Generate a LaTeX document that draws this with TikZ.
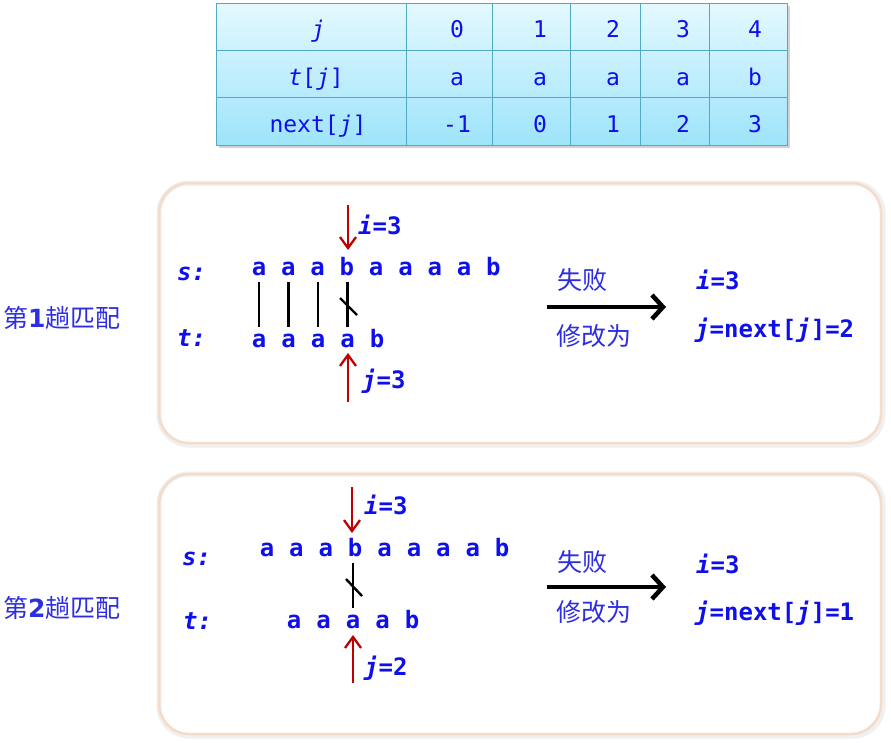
\documentclass[tikz,border=0pt]{standalone}
\usepackage{fontspec}
\setmainfont{DejaVu Sans}
\newfontfamily\mono{DejaVu Sans Mono}
\newfontfamily\cjk{Noto Sans CJK SC}
\usetikzlibrary{arrows.meta,calc}
\definecolor{txtblue}{RGB}{15,15,235}
\definecolor{cjkblue}{RGB}{45,45,225}
\definecolor{arrred}{RGB}{190,0,0}
\definecolor{gridc}{RGB}{80,170,195}
\definecolor{tabtop}{RGB}{228,249,255}
\definecolor{tabbot}{RGB}{158,228,250}
\definecolor{panelc}{RGB}{244,220,202}
\newcommand\lfont{\mono\bfseries\fontsize{24}{28}\selectfont}
\newcommand\tfont{\mono\fontsize{23}{27}\selectfont}
\newcommand\cfont{\cjk\fontsize{25}{29}\selectfont}
\tikzset{
  letter/.style={anchor=base, inner sep=0pt, text=txtblue, font=\lfont},
  lab/.style={anchor=base west, inner sep=0pt, text=txtblue, font=\lfont},
  tabtxt/.style={anchor=base, inner sep=0pt, text=txtblue, font=\tfont},
  cjklab/.style={anchor=west, inner sep=0pt, text=cjkblue, font=\cfont},
  panel/.style={draw=panelc, line width=2.5pt, rounded corners=30pt, minimum width=722pt, minimum height=260pt, inner sep=0pt},
  panelshadow/.style={draw=gray!12, line width=5pt, rounded corners=30pt, minimum width=724pt, minimum height=262pt, inner sep=0pt},
  matchline/.style={draw=black, line width=2.8pt, shorten <=7pt, shorten >=20pt},
  slash/.style={draw=black, line width=2.4pt},
  redarr/.style={draw=arrred, line width=2.3pt, -{Straight Barb[length=11pt,width=16pt]}},
  bigarr/.style={draw=black, line width=4.5pt, -{Straight Barb[length=11pt,width=24pt]}}
}
\begin{document}
\begin{tikzpicture}[x=1pt,y=-1pt]
\useasboundingbox[fill=white] (0,0) rectangle (891,742);
% ---------- table ----------
\fill[gray!35] (219,6) rectangle (790,148);
\shade[top color=tabtop,bottom color=tabbot] (216,3) rectangle (787,145);
\draw[gridc, line width=1pt] (216,3) rectangle (787,145);
\foreach \x in {406,492,570,640,709} \draw[gridc,line width=1pt] (\x,3) -- (\x,145);
\foreach \y in {50,97} \draw[gridc,line width=1pt] (216,\y) -- (787,\y);
\node[tabtxt] (hj) at (318,37) {\itshape j};
\node[tabtxt] (htj) at (316,85) {{\itshape t}[{\itshape j}]};
\node[tabtxt] (hnj) at (318,132) {next[{\itshape j}]};
\foreach [count=\k] \x/\a/\b/\c in {457/0/a/-1,540/1/a/0,613/2/a/1,683/3/a/2,755/4/b/3}{
  \node[tabtxt] (jv\k) at (\x,37) {\a};
  \node[tabtxt] (tv\k) at (\x,85) {\b};
  \node[tabtxt] (nv\k) at (\x,132) {\c};
}
% ---------- panels ----------
\node[panelshadow] (panel1s) at (521,314) {};
\node[panel] (panel1) at (520,313) {};
\node[panelshadow] (panel2s) at (521,605) {};
\node[panel] (panel2) at (520,604) {};
% ---------- row labels ----------
\node[cjklab] (round1) at (3,318) {第{\fontspec{DejaVu Sans}\bfseries 1}趟匹配};
\node[cjklab] (round2) at (3,608) {第{\fontspec{DejaVu Sans}\bfseries 2}趟匹配};
% ---------- panel 1 ----------
\node[lab] (p1slab) at (177,280) {\itshape s:};
\node[lab] (p1tlab) at (177,346) {\itshape t:};
\foreach [count=\k] \c in {a,a,a,b,a,a,a,a,b}
  \node[letter] (p1s\k) at ({259+29.3*(\k-1)},275) {\c};
\foreach [count=\k] \c in {a,a,a,a,b}
  \node[letter] (p1t\k) at ({259+29.5*(\k-1)},347) {\c};
\foreach \k in {1,2,3,4} \draw[matchline] (p1t\k.base |- p1s\k.base) -- (p1t\k.base);
\coordinate (p1x1) at (340,298); \coordinate (p1x2) at (357,315);
\draw[slash] (p1x1) -- (p1x2);
\coordinate (p1ia) at (348,205); \coordinate (p1ib) at (348,250);
\draw[redarr] (p1ia) -- (p1ib);
\coordinate (p1ja) at (348,402); \coordinate (p1jb) at (348,353);
\draw[redarr] (p1ja) -- (p1jb);
\node[lab] (p1i) at (358,234) {{\itshape i}=3};
\node[lab] (p1j) at (362,388) {{\itshape j}=3};
\node[cjklab] (p1fail) at (557,280) {失败};
\node[cjklab] (p1mod) at (556,336) {修改为};
\coordinate (p1aa) at (547,307); \coordinate (p1ab) at (666,307);
\draw[bigarr] (p1aa) -- (p1ab);
\node[lab] (p1ri) at (696,289) {{\itshape i}=3};
\node[lab] (p1rj) at (695,337) {{\itshape j}=next[{\itshape j}]=2};
% ---------- panel 2 ----------
\node[lab] (p2slab) at (182,565) {\itshape s:};
\node[lab] (p2tlab) at (183,629) {\itshape t:};
\foreach [count=\k] \c in {a,a,a,b,a,a,a,a,b}
  \node[letter] (p2s\k) at ({267+29.4*(\k-1)},556) {\c};
\foreach [count=\k] \c in {a,a,a,a,b}
  \node[letter] (p2t\k) at ({294+29.5*(\k-1)},628) {\c};
\draw[matchline] (p2t3.base |- p2s4.base) -- (p2t3.base);
\coordinate (p2x1) at (346,579); \coordinate (p2x2) at (362,596);
\draw[slash] (p2x1) -- (p2x2);
\coordinate (p2ia) at (352,487); \coordinate (p2ib) at (352,533);
\draw[redarr] (p2ia) -- (p2ib);
\coordinate (p2ja) at (353,683); \coordinate (p2jb) at (353,635);
\draw[redarr] (p2ja) -- (p2jb);
\node[lab] (p2i) at (364,514) {{\itshape i}=3};
\node[lab] (p2j) at (364,675) {{\itshape j}=2};
\node[cjklab] (p2fail) at (557,562) {失败};
\node[cjklab] (p2mod) at (556,612) {修改为};
\coordinate (p2aa) at (547,587); \coordinate (p2ab) at (666,587);
\draw[bigarr] (p2aa) -- (p2ab);
\node[lab] (p2ri) at (696,573) {{\itshape i}=3};
\node[lab] (p2rj) at (695,620) {{\itshape j}=next[{\itshape j}]=1};
\end{tikzpicture}
\end{document}
